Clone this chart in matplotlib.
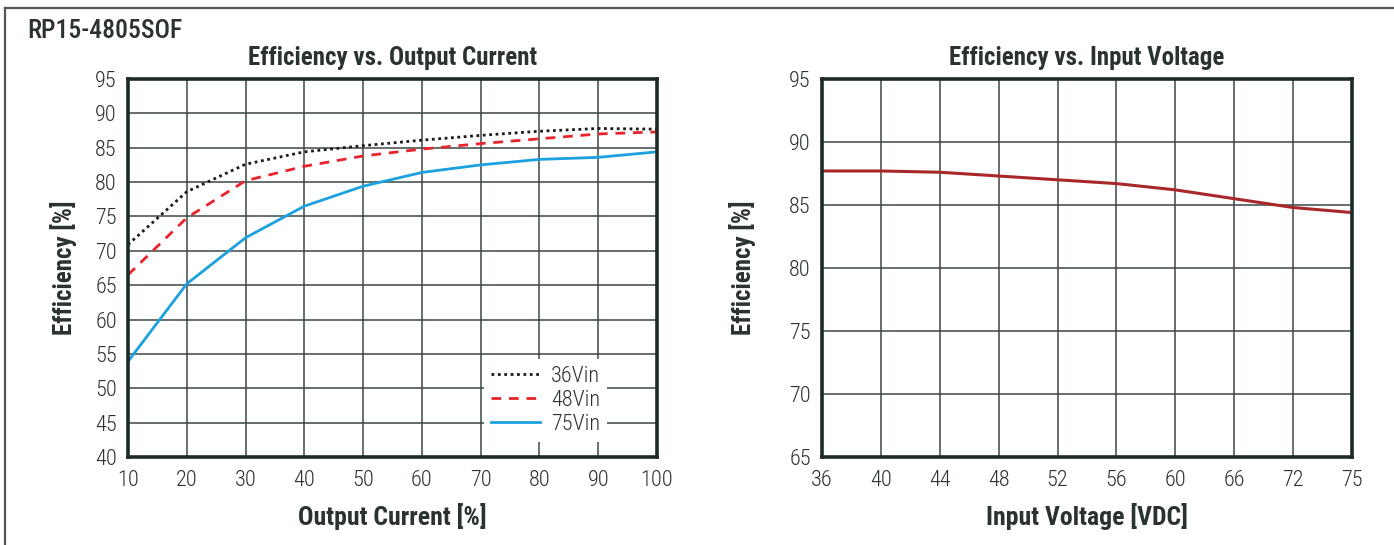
import matplotlib
matplotlib.use("Agg")
import matplotlib.pyplot as plt
from matplotlib.lines import Line2D
import numpy as np

plt.rcParams["font.family"] = ["Roboto Condensed", "DejaVu Sans"]

# --- data: efficiency vs. output current ---
load_pct = [10, 20, 30, 40, 50, 60, 70, 80, 90, 100]
eff_36vin = [70.9, 78.6, 82.6, 84.4, 85.3, 86.1, 86.8, 87.4, 87.8, 87.7]
eff_48vin = [66.5, 74.8, 80.2, 82.3, 83.8, 84.8, 85.6, 86.3, 87.0, 87.3]
eff_75vin = [53.9, 65.2, 71.9, 76.5, 79.4, 81.4, 82.5, 83.3, 83.6, 84.4]

# --- data: efficiency vs. input voltage ---
vin_labels = ["36", "40", "44", "48", "52", "56", "60", "66", "72", "75"]
eff_vin = [87.7, 87.7, 87.6, 87.3, 87.0, 86.7, 86.2, 85.5, 84.8, 84.4]

TXT = "#2a3232"
GRID = "#3c4646"
SPINE = "#1e2a2a"
W, H = 1394, 545


def style_axes(ax, title, xlabel, ylabelpad):
    ax.grid(True, color=GRID, lw=1.1)
    ax.set_axisbelow(True)
    for s in ax.spines.values():
        s.set_linewidth(2.6)
        s.set_color(SPINE)
    ax.tick_params(length=0, labelsize=16, colors=TXT)
    ax.tick_params(axis="x", pad=9)
    ax.tick_params(axis="y", pad=8)
    for lab in ax.get_xticklabels() + ax.get_yticklabels():
        lab.set_fontweight("light")
    ax.set_title(title, fontsize=18, fontweight="bold", color=TXT, pad=10)
    ax.set_xlabel(xlabel, fontsize=18.5, fontweight="bold", color=TXT, labelpad=9)
    ax.set_ylabel("Efficiency [%]", fontsize=18, fontweight="bold", color=TXT,
                  labelpad=ylabelpad)


fig = plt.figure(figsize=(W / 100, H / 100), dpi=100)

# left panel
ax1 = fig.add_axes([128 / W, 88 / H, 529 / W, 378 / H])
ax1.plot(load_pct, eff_36vin, color="#1a1a1a", ls=(0, (1, 1.3)), lw=2, label="36Vin")
ax1.plot(load_pct, eff_48vin, color="#e8232b", ls=(0, (3.5, 2.8)), lw=2, label="48Vin")
ax1.plot(load_pct, eff_75vin, color="#1ba1df", lw=2, label="75Vin")
ax1.set_xlim(10, 100)
ax1.set_ylim(40, 95)
ax1.set_xticks(load_pct)
ax1.set_yticks(np.arange(40, 96, 5))
style_axes(ax1, "Efficiency vs. Output Current", "Output Current [%]", 13)
leg = ax1.legend(loc="lower right", bbox_to_anchor=(0.905, 0.04), fontsize=16,
                 frameon=True, fancybox=False, edgecolor="none", framealpha=1,
                 handlelength=2.2, handletextpad=0.5, borderpad=0.3,
                 labelspacing=0.15, borderaxespad=0)
for t in leg.get_texts():
    t.set_color(TXT)
    t.set_fontweight("light")

# right panel (input voltage ticks are evenly spaced on the page)
pos = np.arange(len(vin_labels))
ax2 = fig.add_axes([822 / W, 88 / H, 530 / W, 378 / H])
ax2.plot(pos, eff_vin, color="#a8282a", lw=2.2)
ax2.set_xlim(pos[0], pos[-1])
ax2.set_ylim(65, 95)
ax2.set_xticks(pos)
ax2.set_xticklabels(vin_labels)
ax2.set_yticks(np.arange(65, 96, 5))
style_axes(ax2, "Efficiency vs. Input Voltage", "Input Voltage [VDC]", 24)

fig.text(27 / W, 1 - 31 / H, "RP15-4805SOF", fontsize=18.5, fontweight="medium",
         color=TXT, va="center", ha="left")

# page frame: top and left edges only
fig.add_artist(Line2D([5 / W, 1], [1 - 8 / H, 1 - 8 / H], color="#555555", lw=1.6))
fig.add_artist(Line2D([5 / W, 5 / W], [0, 1 - 8 / H], color="#555555", lw=1.6))

fig.savefig("out.png", dpi=100)
